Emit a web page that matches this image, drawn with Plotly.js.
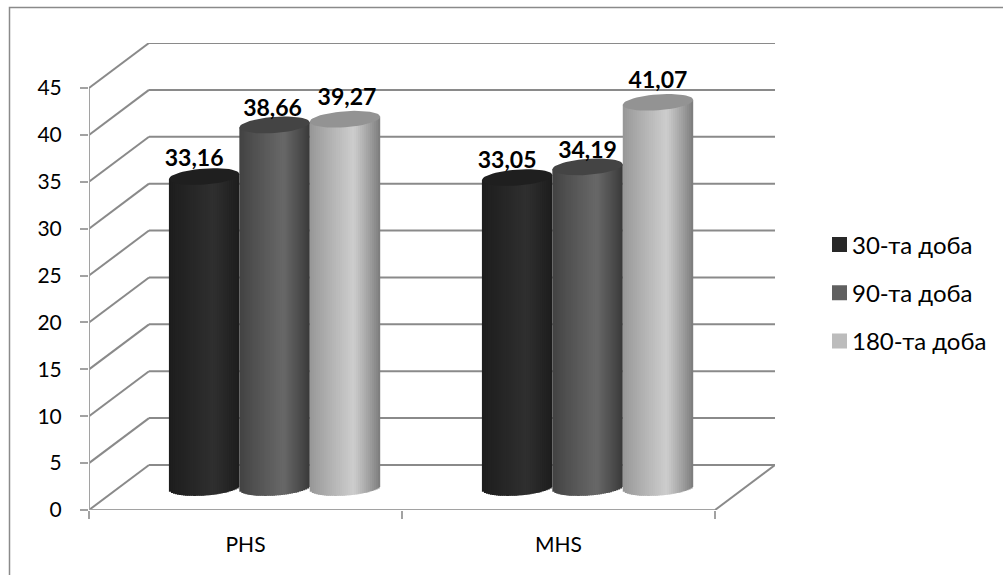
<!DOCTYPE html>
<html>
<head>
<meta charset="utf-8">
<script src="https://cdn.plot.ly/plotly-3.0.1.min.js"></script>
<style>html,body{margin:0;padding:0;background:#fff;overflow:hidden}#chart{width:1003px;height:575px}</style>
</head>
<body>
<div id="chart"></div>
<script>
// Values per measurement day
const categories = ['PHS', 'MHS'];
const seriesNames = ['30-та доба', '90-та доба', '180-та доба'];
const day30 = [33.16, 33.05];
const day90 = [38.66, 34.19];
const day180 = [39.27, 41.07];
const valueTicks = [0, 5, 10, 15, 20, 25, 30, 35, 40, 45];

// Shading of each cylinder: edge, highlight, edge, top cap, legend swatch
const shades = [
  {left: [28, 28, 28], mid: [47, 47, 47], right: [28, 28, 28], cap: '#1f1f1f', swatch: '#282828'},
  {left: [66, 66, 66], mid: [104, 104, 104], right: [56, 56, 56], cap: '#444444', swatch: '#606060'},
  {left: [150, 150, 150], mid: [205, 205, 205], right: [122, 122, 122], cap: '#939393', swatch: '#bcbcbc'}
];
// Pixel nudges of the value labels, so they sit clear of the caps
const labelLift = [[16, 15], [15, 15], [20, 20]];
const labelShift = [[-10, -10], [-2, 0], [2, 0]];

// Plot frame in pixels and the oblique projection used for depth
const W = 1003, H = 575;
const M = {l: 89, r: 228, t: 43, b: 65};
const pxPerCat = 313, depthPxX = 60, depthPxY = 45;
const pxPerUnit = 467 / (45 + depthPxY / 9.378);
const dX = depthPxX / pxPerCat, dY = depthPxY / pxPerUnit;
const xMax = categories.length + dX, yMax = 45 + dY;

const series = [day30, day90, day180];
const barW = 0.225, strips = 35;
const semiY = 8 / pxPerUnit, tiltY = 2.5 / pxPerUnit;

function mix(s, t) {
  // t runs -1..1 across the cylinder; the highlight sits right of centre
  const h = 0.25, a = t < h ? (t + 1) / (1 + h) : (1 - t) / (1 - h);
  const e = t < h ? s.left : s.right;
  const c = e.map((v, i) => Math.round(v + (s.mid[i] - v) * Math.pow(a, 0.9)));
  return `rgb(${c[0]},${c[1]},${c[2]})`;
}

const traces = [];
series.forEach((vals, si) => {
  const xs = [], base = [], h = [], col = [], wid = [], capX = [], capY = [];
  const s = shades[si];
  const stripW = barW / strips;
  vals.forEach((v, ci) => {
    const cx = ci + 0.5 + (si - 1) * barW - 0.003 + dX / 2;
    const floorY = dY / 2, topY = v + dY / 2;
    for (let k = 0; k < strips; k++) {
      const t = -1 + (2 * k + 1) / strips;
      const b = floorY + tiltY * t - semiY * Math.sqrt(1 - t * t);
      const top = topY + tiltY * t;
      xs.push(cx - barW / 2 + k * stripW);
      // Each strip runs under the next one, which closes the seams between them
      wid.push(k < strips - 1 ? stripW * 1.7 : stripW);
      base.push(b);
      h.push(top - b);
      col.push(mix(s, t));
    }
    for (let a = 0; a <= 48; a++) {
      const th = a / 48 * 2 * Math.PI;
      capX.push(cx + Math.cos(th) * barW / 2);
      capY.push(topY + tiltY * Math.cos(th) + semiY * Math.sin(th));
    }
    capX.push(null);
    capY.push(null);
  });
  traces.push({
    type: 'bar', x: xs, y: h, base: base, width: wid, offset: 0,
    marker: {color: col, line: {width: 0}}, showlegend: false, hoverinfo: 'skip'
  });
  traces.push({
    type: 'scatter', mode: 'lines', x: capX, y: capY, fill: 'toself', fillcolor: s.cap,
    line: {width: 0, color: s.cap}, showlegend: false, hoverinfo: 'skip'
  });
});

// Legend entries
seriesNames.forEach((name, si) => {
  traces.push({
    type: 'scatter', mode: 'markers', name: name, legendgroup: name,
    x: [null], y: [null], hoverinfo: 'skip',
    marker: {symbol: 'square', size: 15, color: shades[si].swatch}
  });
});

// Value labels with a decimal comma
series.forEach((vals, si) => {
  traces.push({
    type: 'scatter', mode: 'text', showlegend: false, hoverinfo: 'skip', cliponaxis: false,
    x: vals.map((v, ci) => ci + 0.5 + (si - 1) * barW - 0.003 + dX / 2 + labelShift[si][ci] / pxPerCat),
    y: vals.map((v, ci) => v + dY / 2 + labelLift[si][ci] / pxPerUnit),
    text: vals.map(v => v.toFixed(2).replace('.', ',')),
    textposition: 'middle center',
    textfont: {family: 'Lato, "Open Sans", sans-serif', size: 23, color: '#000', weight: 700}
  });
});

// Walls and floor of the chart box
const gridColor = '#8a8a8a';
const line = (x0, y0, x1, y1, color, width) => ({
  type: 'line', xref: 'x', yref: 'y', layer: 'below', x0, y0, x1, y1,
  line: {color: color || gridColor, width: width || 2}
});
const shapes = [];
valueTicks.forEach(v => {
  shapes.push(line(0, v, dX, v + dY));
  shapes.push(line(dX, v + dY, xMax, v + dY));
});
shapes.push(line(xMax, dY, categories.length, 0));
shapes.push(line(0, 0, categories.length, 0, '#a2a2a2'));
shapes.push(line(0, 0, 0, 45, '#a2a2a2'));

// Outer chart frame, open past the right and bottom window edges
const plotW = W - M.l - M.r, plotH = H - M.t - M.b;
shapes.push({
  type: 'rect', xref: 'paper', yref: 'paper', layer: 'below',
  x0: (9.5 - M.l) / plotW, x1: (W + 10 - M.l) / plotW,
  y0: (H - M.b - (H + 10)) / plotH, y1: (H - M.b - 7.5) / plotH,
  line: {color: '#8a8a8a', width: 1.5}, fillcolor: 'rgba(0,0,0,0)'
});

const fontFamily = 'Lato, "Open Sans", sans-serif';
const layout = {
  width: W, height: H,
  margin: {l: M.l, r: M.r, t: M.t, b: M.b, pad: 0, autoexpand: false},
  paper_bgcolor: '#fff', plot_bgcolor: 'rgba(0,0,0,0)',
  barmode: 'overlay', hovermode: false,
  font: {family: fontFamily, color: '#000', size: 19},
  xaxis: {
    range: [0, xMax], showgrid: false, zeroline: false, showline: false,
    tickmode: 'array', tickvals: categories.map((c, i) => i + 0.5), ticktext: categories,
    ticks: '', ticklabelstandoff: 20, tickfont: {size: 21},
    minor: {tickmode: 'array', tickvals: [0, 1, 2], ticks: 'outside', ticklen: 8, tickwidth: 2, tickcolor: '#a2a2a2', showgrid: false}
  },
  yaxis: {
    range: [0, yMax], showgrid: false, zeroline: false, showline: false,
    tickmode: 'array', tickvals: valueTicks, ticktext: valueTicks.map(String),
    ticks: 'outside', ticklen: 8, tickwidth: 2, tickcolor: '#a2a2a2', ticklabelstandoff: 14,
    tickfont: {size: 21}
  },
  legend: {
    x: (812 - M.l) / plotW, xanchor: 'left', y: (H - M.b - 293) / plotH, yanchor: 'middle',
    font: {size: 24}, traceorder: 'grouped', tracegroupgap: 14, bgcolor: 'rgba(0,0,0,0)', borderwidth: 0,
    itemclick: false, itemdoubleclick: false
  },
  shapes: shapes
};
Plotly.newPlot('chart', traces, layout, {staticPlot: true, displayModeBar: false}).then(() => {
  // Bring the legend swatches closer to their text
  document.querySelectorAll('#chart .legendpoints').forEach(g => {
    g.setAttribute('transform', 'translate(7.5,0)');
  });
});
</script>
</body>
</html>
